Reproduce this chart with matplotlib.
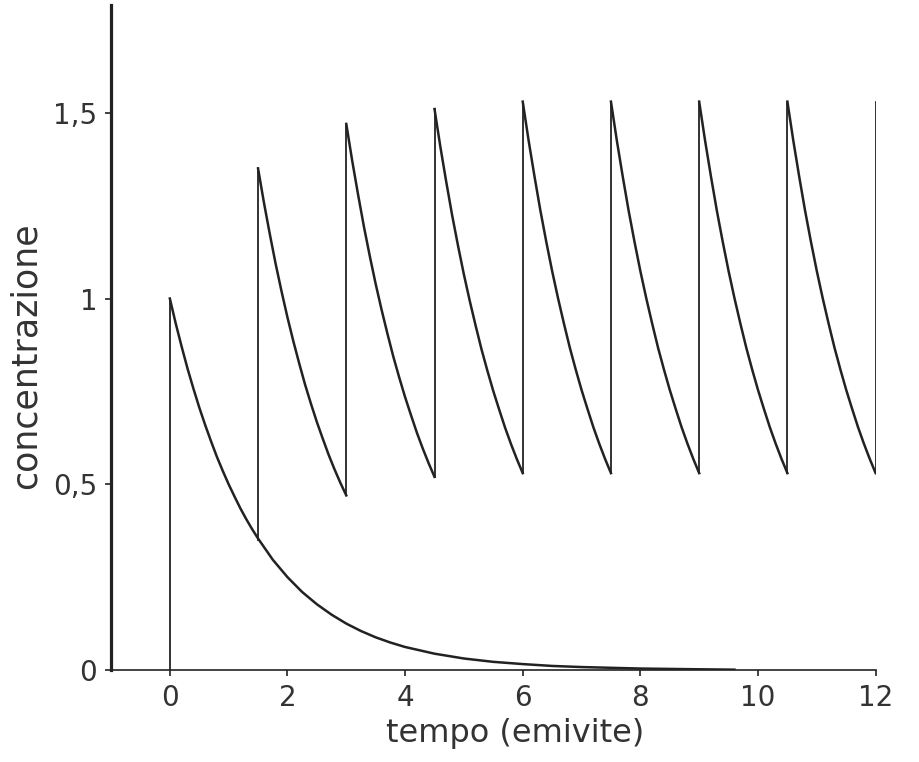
import numpy as np
import matplotlib.pyplot as plt

# single dose curve (tempo in emivite)
single_t = [0, 0.1, 0.2, 0.3, 0.4, 0.5, 0.6, 0.7, 0.8, 0.9, 1.0, 1.1, 1.2,
            1.3, 1.4, 1.5, 1.75, 2, 2.25, 2.5, 2.75, 3, 3.25, 3.5, 3.75, 4,
            4.5, 5, 5.5, 6, 6.5, 7, 8, 9, 9.6]
single_c = [1.0, 0.933, 0.871, 0.812, 0.758, 0.707, 0.660, 0.616, 0.574,
            0.536, 0.500, 0.467, 0.435, 0.406, 0.379, 0.354, 0.297, 0.250,
            0.210, 0.177, 0.149, 0.125, 0.105, 0.088, 0.074, 0.062, 0.044,
            0.031, 0.022, 0.016, 0.011, 0.008, 0.004, 0.002, 0.001]

# repeated dosing every 1.5 half-lives
dose_t = [0, 1.5, 3, 4.5, 6, 7.5, 9, 10.5, 12]
peaks = [1.0, 1.35, 1.47, 1.51, 1.53, 1.53, 1.53, 1.53, 1.53]
troughs = [0.35, 0.47, 0.52, 0.53, 0.53, 0.53, 0.53, 0.53]

ink = "#222222"
txt = "#333333"
plt.rcParams['font.family'] = ['DejaVu Sans']

fig = plt.figure(figsize=(9.19, 7.62), dpi=100)
ax = fig.add_axes([0.1208, 0.1207, 0.832, 0.8727])

# first dose (rise + single decay)
ax.plot([0, 0], [0, peaks[0]], color=ink, lw=1.3)
ax.plot(single_t, single_c, color=ink, lw=1.8)

# shape of one interval, taken from the single dose curve
interval = 1.5
shape_t = np.array([t for t in single_t if t <= interval])
shape_c = np.array(single_c[:len(shape_t)])

for k in range(1, len(dose_t)):
    t0 = dose_t[k]
    ax.plot([t0, t0], [troughs[k - 1], peaks[k]], color=ink, lw=1.3)
    if k < len(troughs):
        seg = peaks[k] * shape_c / shape_c[0]
        seg = seg * (troughs[k] / seg[-1]) ** (shape_t / interval)
        ax.plot(t0 + shape_t, seg, color=ink, lw=1.8)

ax.set_xlim(-1, 12)
ax.set_ylim(0, 1.79)
ax.set_xticks([0, 2, 4, 6, 8, 10, 12])
ax.set_yticks([0, 0.5, 1, 1.5])
ax.set_yticklabels(["0", "0,5", "1", "1,5"])

for s in ["top", "right"]:
    ax.spines[s].set_visible(False)
ax.spines["left"].set_linewidth(2.3)
ax.spines["bottom"].set_linewidth(1.2)
ax.spines["left"].set_color(ink)
ax.spines["bottom"].set_color(ink)
ax.spines["bottom"].set_bounds(-1, 12)

ax.tick_params(axis="both", length=4, width=1.2, pad=6, labelsize=20,
               colors=ink, labelcolor=txt)
ax.set_xlabel("tempo (emivite)", fontsize=23, color=txt)
ax.set_ylabel("concentrazione", fontsize=25, color=txt)
ax.xaxis.set_label_coords(0.529, -0.072)
ax.yaxis.set_label_coords(-0.089, 0.472)

fig.savefig("out.png", dpi=100)
